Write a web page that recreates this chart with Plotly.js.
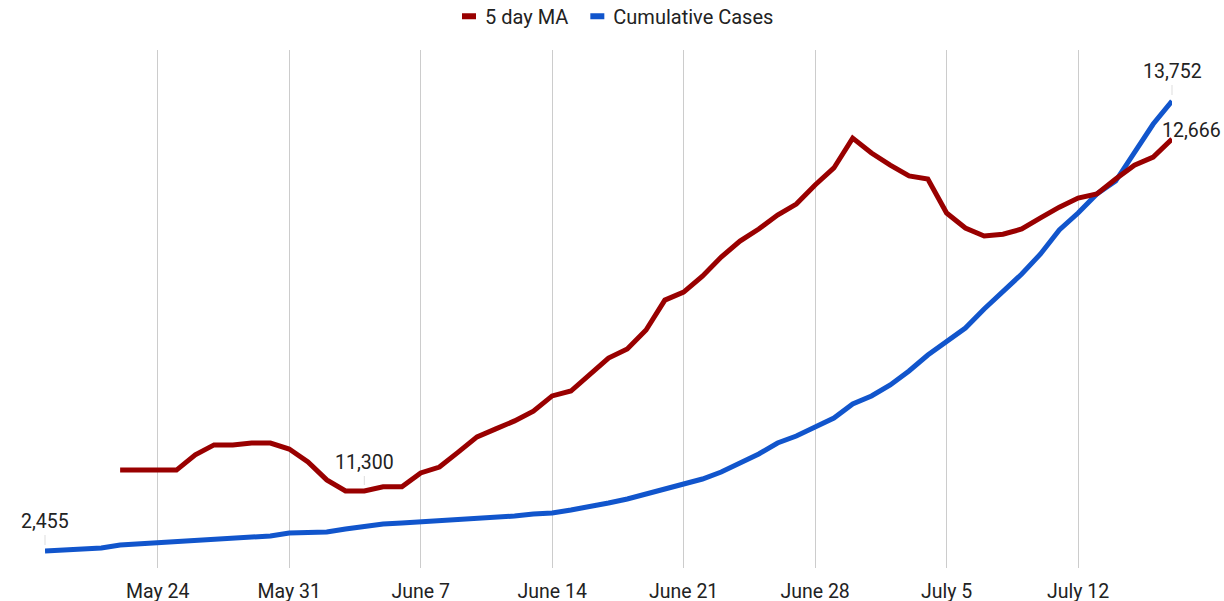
<!DOCTYPE html>
<html>
<head>
<meta charset="utf-8">
<script src="https://cdn.plot.ly/plotly-3.0.1.min.js"></script>
<style>html,body{margin:0;padding:0;background:#fff;}#chart{width:1224px;height:601px;}</style>
</head>
<body>
<div id="chart"></div>
<script>
const dates = [
  "2020-05-18","2020-05-19","2020-05-20","2020-05-21","2020-05-22","2020-05-23","2020-05-24","2020-05-25","2020-05-26","2020-05-27",
  "2020-05-28","2020-05-29","2020-05-30","2020-05-31","2020-06-01","2020-06-02","2020-06-03","2020-06-04","2020-06-05","2020-06-06",
  "2020-06-07","2020-06-08","2020-06-09","2020-06-10","2020-06-11","2020-06-12","2020-06-13","2020-06-14","2020-06-15","2020-06-16",
  "2020-06-17","2020-06-18","2020-06-19","2020-06-20","2020-06-21","2020-06-22","2020-06-23","2020-06-24","2020-06-25","2020-06-26",
  "2020-06-27","2020-06-28","2020-06-29","2020-06-30","2020-07-01","2020-07-02","2020-07-03","2020-07-04","2020-07-05","2020-07-06",
  "2020-07-07","2020-07-08","2020-07-09","2020-07-10","2020-07-11","2020-07-12","2020-07-13","2020-07-14","2020-07-15","2020-07-16",
  "2020-07-17"
];

const cumulativeCases = [
  2455,2480,2505,2530,2606,2631,2681,2706,2731,2756,
  2781,2806,2831,2907,2915,2932,3007,3083,3133,3158,
  3183,3208,3233,3258,3283,3334,3384,3409,3484,3560,
  3660,3760,3886,4011,4112,4262,4438,4664,4890,5166,
  5342,5568,5794,6145,6346,6622,6974,7375,7727,8053,
  8530,8957,9409,9911,10513,10940,11417,11743,12471,13174,
  13752
];

// 5 day moving average starts on May 22
const maDates = dates.slice(4);
const fiveDayMA = [
  11381,11381,11381,11381,11440,11479,11479,11486,11486,11463,
  11413,11343,11300,11300,11316,11316,11370,11393,11451,11510,
  11541,11572,11610,11669,11688,11750,11816,11851,11925,12041,
  12072,12134,12208,12270,12317,12371,12414,12488,12554,12670,
  12612,12565,12523,12511,12379,12321,12290,12297,12317,12360,
  12402,12437,12453,12511,12565,12596,12666
];

const tickDates = ["2020-05-24","2020-05-31","2020-06-07","2020-06-14","2020-06-21","2020-06-28","2020-07-05","2020-07-12"];
const tickLabels = ["May 24","May 31","June 7","June 14","June 21","June 28","July 5","July 12"];

const fmt = v => v.toLocaleString("en-US");
const FONT = "Roboto, Arial, sans-serif";
const FS = 19.5;

const traces = [
  {
    x: maDates, y: fiveDayMA, name: "5 day MA", type: "scatter", mode: "lines",
    yaxis: "y2", line: {color: "#990000", width: 5}
  },
  {
    x: dates, y: cumulativeCases, name: "Cumulative Cases", type: "scatter", mode: "lines",
    yaxis: "y", line: {color: "#1155cc", width: 5}
  }
];

const minIdx = 13; // the labelled low point of the moving average
const lastMA = fiveDayMA.length - 1;
const lastCum = cumulativeCases.length - 1;

const annFont = {family: FONT, size: FS, color: "#222222"};
const annotations = [
  {x: dates[0], y: cumulativeCases[0], xref: "x", yref: "y", text: fmt(cumulativeCases[0]),
   showarrow: true, arrowhead: 0, arrowwidth: 1, arrowcolor: "#dddddd", ax: 0, ay: -29, standoff: 6, font: annFont},
  {x: dates[lastCum], y: cumulativeCases[lastCum], xref: "x", yref: "y", text: fmt(cumulativeCases[lastCum]),
   showarrow: true, arrowhead: 0, arrowwidth: 1, arrowcolor: "#dddddd", ax: 0, ay: -29, standoff: 6, font: annFont},
  {x: maDates[minIdx], y: fiveDayMA[minIdx], xref: "x", yref: "y2", text: fmt(fiveDayMA[minIdx]),
   showarrow: true, arrowhead: 0, arrowwidth: 1, arrowcolor: "#dddddd", ax: 0, ay: -28, standoff: 6, font: annFont},
  {x: maDates[lastMA], y: fiveDayMA[lastMA], xref: "x", yref: "y2", text: fmt(fiveDayMA[lastMA]),
   showarrow: false, xshift: 19, yshift: 9, font: annFont}
];

const layout = {
  width: 1224, height: 601,
  margin: {l: 45, r: 52, t: 50, b: 33},
  paper_bgcolor: "#ffffff", plot_bgcolor: "#ffffff",
  font: {family: FONT, size: FS, color: "#222222"},
  showlegend: true,
  legend: {orientation: "h", x: 0.5, xref: "container", xanchor: "center",
           y: 0.973, yref: "container", yanchor: "middle",
           font: {family: FONT, size: 20, color: "#222222"}, itemwidth: 30},
  xaxis: {
    type: "date", range: ["2020-05-18", "2020-07-17"],
    tickvals: tickDates, ticktext: tickLabels,
    showgrid: true, gridcolor: "#cccccc", gridwidth: 1,
    showline: false, zeroline: false, ticks: "", ticklabelstandoff: 9,
    tickfont: {family: FONT, size: FS, color: "#222222"}
  },
  yaxis: {range: [2028, 15032], visible: false, showgrid: false, zeroline: false},
  yaxis2: {range: [11001, 13012], overlaying: "y", side: "right", visible: false, showgrid: false, zeroline: false},
  annotations: annotations
};

Plotly.newPlot("chart", traces, layout, {displayModeBar: false, responsive: false}).then(gd => {
  // Google-style short square legend swatches
  gd.querySelectorAll(".legend .legendlines path").forEach(p => {
    p.setAttribute("d", "M17,0h14");
    p.style.strokeLinecap = "butt";
    p.style.strokeWidth = "6px";
  });
});
</script>
</body>
</html>
